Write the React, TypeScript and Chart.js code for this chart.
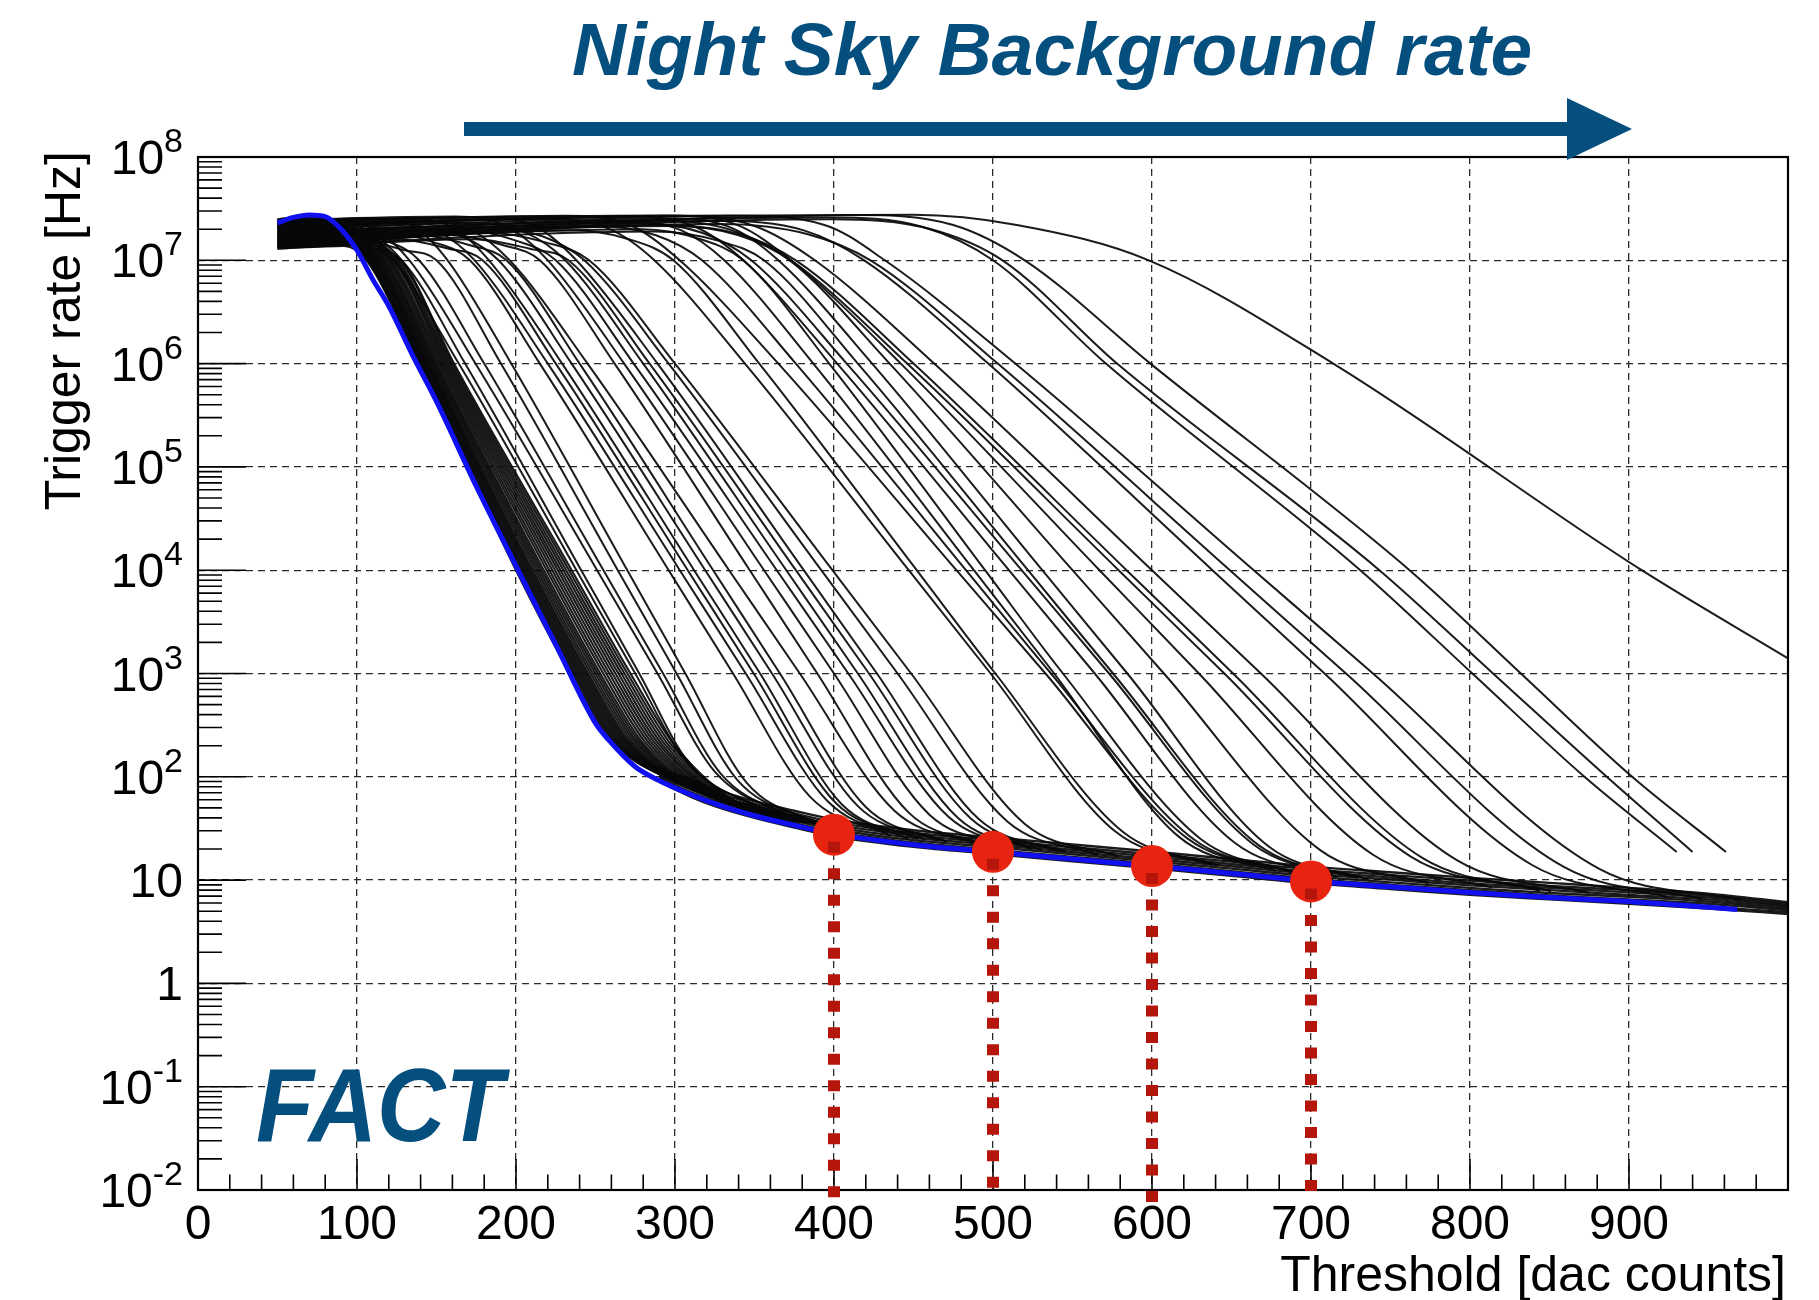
import React, { useEffect, useRef } from 'react';
import { Chart, registerables } from 'chart.js';

Chart.register(...registerables);

const FONT = '"Liberation Sans", Arial, Helvetica, sans-serif';
const NAVY = '#054f7f';
const RED = '#e8230f';
const RED_DARK = '#b5160b';
const BLUE = '#1010f0';
const BLACK = 'rgba(8,8,8,0.92)';

// ---------- axes ----------
const X_MIN = 0;
const X_MAX = 1000;
const Y_MIN = 0.01;
const Y_MAX = 1e8;
const X_TICK_VALUES = [0, 100, 200, 300, 400, 500, 600, 700, 800, 900];
const X_TICK_LABELS = ['0', '100', '200', '300', '400', '500', '600', '700', '800', '900'];
const X_GRID_VALUES = [100, 200, 300, 400, 500, 600, 700, 800, 900];
const Y_TICK_EXPONENTS = [-2, -1, 0, 1, 2, 3, 4, 5, 6, 7, 8];
const Y_GRID_VALUES = [0.1, 1, 10, 100, 1e3, 1e4, 1e5, 1e6, 1e7];

// ---------- shared rate levels of the curve knots ----------
const CURVE_START_X = 50;
const LEVEL_1E7 = 1e7;
const LEVEL_1E6 = 1e6;
const LEVEL_1E4 = 1e4;
const LEVEL_1E3 = 1e3;

// ---------- lowest NSB curve (blue) ----------
const BLUE_X = [50, 60, 70, 80, 90, 100, 110, 120, 135, 150, 175, 200, 225, 250, 258, 275, 290, 300, 325, 350, 375, 400, 450, 500, 550, 600, 650, 700, 750, 800, 850, 900, 968];
const BLUE_RATE = [2.3e7, 2.6e7, 2.75e7, 2.65e7, 2.0e7, 1.25e7, 6.5e6, 3.6e6, 1.2e6, 4.3e5, 6.5e4, 1.1e4, 1.9e3, 330, 230, 125, 92, 78, 55, 42, 34, 28, 22, 18.8, 16, 13.7, 11.6, 9.8, 8.6, 7.6, 6.8, 6.2, 5.2];

// ---------- dense bundle next to the blue curve ----------
const BUNDLE_START = [1.3e7, 2.5e7, 1.7e7, 2.1e7, 1.45e7, 2.35e7, 1.85e7, 1.35e7, 2.2e7, 1.6e7, 2.45e7, 1.5e7, 1.95e7, 2.3e7, 1.4e7, 1.75e7, 2.05e7, 1.55e7, 2.4e7, 1.65e7, 1.32e7, 2.15e7, 1.8e7, 2.0e7, 1.42e7, 2.25e7];
const BUNDLE_PEAK_X = [92, 72, 85, 78, 94, 70, 82, 95, 74, 88, 68, 93, 80, 73, 95, 86, 77, 91, 70, 89, 96, 76, 84, 80, 94, 75];
const BUNDLE_PEAK_RATE = [1.38e7, 2.7e7, 1.9e7, 2.35e7, 1.55e7, 2.6e7, 2.05e7, 1.42e7, 2.45e7, 1.75e7, 2.7e7, 1.6e7, 2.2e7, 2.55e7, 1.48e7, 1.95e7, 2.3e7, 1.65e7, 2.65e7, 1.8e7, 1.4e7, 2.4e7, 2.0e7, 2.25e7, 1.5e7, 2.5e7];
const BUNDLE_X7 = [106, 106.7, 107.3, 108, 108.6, 109.3, 110, 110.6, 111.3, 112, 112.6, 113.5, 114.4, 115.2, 116.1, 117, 118.1, 119.2, 120.3, 121.4, 122.5, 123.6, 124.7, 125.8, 126.9, 128];
const BUNDLE_X6 = [139, 139.7, 140.3, 141, 141.6, 142.3, 143, 143.6, 144.3, 145, 145.6, 146.5, 147.4, 148.2, 149.1, 150, 151.1, 152.2, 153.3, 154.4, 155.5, 156.6, 157.7, 158.8, 159.9, 161];
const BUNDLE_X4 = [200, 201, 202.1, 203.2, 204.2, 205.3, 206.3, 207.4, 208.4, 209.5, 210.5, 211.9, 213.3, 214.7, 216.1, 217.5, 219.3, 221, 222.8, 224.5, 226.3, 228, 229.8, 231.5, 233.3, 235];
const BUNDLE_X3 = [234, 235.1, 236.3, 237.4, 238.6, 239.7, 240.8, 242, 243.1, 244.3, 245.4, 246.9, 248.4, 250, 251.5, 253, 254.9, 256.8, 258.7, 260.6, 262.5, 264.4, 266.3, 268.2, 270.1, 272];
const BUNDLE_KNEE_X = [258, 259.3, 260.5, 261.8, 263, 264.3, 265.6, 266.8, 268.1, 269.3, 270.6, 272.3, 274, 275.6, 277.3, 279, 281.1, 283.2, 285.3, 287.4, 289.5, 291.6, 293.7, 295.8, 297.9, 300];
const BUNDLE_KNEE_RATE = [240, 239, 238, 236, 235, 234, 233, 232, 230, 229, 228, 226, 225, 223, 222, 220, 218, 216, 214, 212, 210, 208, 206, 204, 202, 200];
const BUNDLE_END_X = [300, 301.4, 302.7, 304, 305.4, 306.8, 308, 309.5, 310.8, 312, 313.5, 315.3, 317.1, 318.9, 320.7, 322.5, 324.8, 327, 329.3, 331.5, 333.8, 336, 338.3, 340.5, 342.8, 345];
const BUNDLE_END_RATE = [90, 88, 86, 85, 83, 81, 80, 78, 77, 76, 74, 72, 70, 68, 66, 65, 63, 62, 60, 58, 57, 55, 53, 52, 51, 50];
const BUNDLE_TAIL_X = [360, 361, 363, 364, 365, 367, 368, 370, 371, 372, 374, 375, 377, 379, 381, 383, 385, 387, 389, 392, 394, 396, 398, 401, 403, 405];
const BUNDLE_TAIL_RATE = [47, 46.5, 46, 45.5, 45, 44.5, 44, 43.5, 43, 42.5, 42, 41.5, 41, 40, 39.5, 39, 38.5, 38, 37, 36, 35.5, 35, 34.5, 34, 33.5, 33];

// ---------- spread-out curves (higher NSB) ----------
const SPREAD_START = [1.9e7, 1.5e7, 2.2e7, 1.7e7, 1.4e7, 2.4e7, 1.6e7, 2.0e7, 1.35e7, 2.3e7, 1.8e7, 1.5e7, 2.1e7, 1.45e7, 2.45e7, 1.65e7, 1.95e7, 1.3e7, 2.25e7, 1.75e7, 1.55e7, 2.05e7, 1.4e7, 2.35e7, 1.6e7, 1.85e7, 1.45e7, 2.15e7, 1.7e7, 1.35e7, 2.0e7, 1.55e7, 2.4e7, 1.8e7, 1.5e7, 2.1e7, 1.65e7, 1.4e7, 2.2e7, 1.9e7, 1.6e7, 2.3e7, 1.75e7];
const SPREAD_PEAK_RATE = [2.1e7, 1.65e7, 2.4e7, 1.9e7, 1.55e7, 2.55e7, 1.85e7, 2.3e7, 1.6e7, 2.55e7, 2.1e7, 1.75e7, 2.4e7, 1.75e7, 2.65e7, 1.95e7, 2.3e7, 1.6e7, 2.6e7, 2.1e7, 1.85e7, 2.5e7, 1.95e7, 2.7e7, 2.15e7, 2.4e7, 2.0e7, 2.65e7, 2.3e7, 1.9e7, 2.55e7, 2.15e7, 2.72e7, 2.45e7, 2.2e7, 2.7e7, 2.4e7, 2.25e7, 2.72e7, 2.6e7, 2.5e7, 2.74e7, 2.76e7];
const SPREAD_PEAK_X = [75, 80, 84, 90, 102, 110, 118, 120, 125, 129, 134, 139, 138, 160, 162, 166, 172, 174, 179, 181, 181, 220, 234, 231, 248, 266, 279, 272, 276, 287, 296, 297, 292, 286, 289, 299, 328, 328, 334, 396, 399, 414, 450];
const SPREAD_ROLL_X = [103, 108, 112, 118, 130, 137, 148, 152, 157, 161, 166, 171, 172, 192, 195, 200, 206, 208, 213, 217, 218, 259, 271, 273, 288, 304, 316, 313, 317, 327, 336, 340, 339, 336, 340, 350, 381, 383, 394, 456, 461, 475, 515];
const SPREAD_ROLL_RATE = [1.7e7, 1.35e7, 1.95e7, 1.55e7, 1.25e7, 2.05e7, 1.5e7, 1.85e7, 1.3e7, 2.05e7, 1.7e7, 1.4e7, 1.95e7, 1.4e7, 2.1e7, 1.55e7, 1.85e7, 1.3e7, 2.1e7, 1.7e7, 1.5e7, 2.0e7, 1.6e7, 2.15e7, 1.75e7, 1.95e7, 1.6e7, 2.1e7, 1.85e7, 1.55e7, 2.05e7, 1.75e7, 2.2e7, 1.95e7, 1.8e7, 2.15e7, 1.95e7, 1.8e7, 2.2e7, 2.1e7, 2.0e7, 2.2e7, 2.2e7];
const SPREAD_X7 = [123, 128, 133, 139, 150, 157, 171, 174, 179, 183, 189, 194, 196, 215, 220, 225, 231, 233, 238, 243, 246, 287, 299, 303, 317, 331, 343, 343, 348, 356, 365, 372, 373, 373, 376, 388, 419, 423, 432, 500, 506, 520, 598];
const SPREAD_X6 = [164, 168, 174.5, 180, 190.5, 197, 215, 220, 225, 229, 235, 240, 245, 262, 268, 274, 280, 284, 289, 296, 300, 344, 353, 365, 376, 387, 397, 402, 408, 415, 424, 435, 442, 446, 450, 463, 497, 503, 514, 571, 578, 599, 714];
const SPREAD_X4 = [238, 241, 251, 255, 264, 270, 296, 303, 308, 312, 319, 324, 334, 347, 356, 364, 370, 376, 381, 392, 399, 447, 452, 477, 483, 488, 495, 510, 518, 522, 531, 550, 567, 579, 584, 600, 638, 649, 664, 731, 743, 762, 908];
const SPREAD_X3 = [275, 277.5, 289, 292.5, 301, 306.5, 336.5, 344.5, 349.5, 353.5, 361, 366, 378.5, 389.5, 400, 409, 415, 422, 427, 440, 448.5, 498.5, 501.5, 533, 536.5, 538.5, 544, 564, 573, 575.5, 584.5, 607.5, 629.5, 645.5, 651, 668.5, 708.5, 722, 739, 801.5, 814.5, 832, null];
const SPREAD_KNEE_X = [307, 309, 325, 329, 339, 345, 385, 396, 401, 405, 415, 420, 438, 447, 460, 472, 478, 486, 491, 509, 520, 577, 582, 622, 626, 617, 631, 652, 664, 667, 673, 706, 739, 763, 770, 792, 839, 859, 881, 872, 886, 902, null];
const SPREAD_KNEE_RATE = [140, 135, 112, 106, 94, 88, 64, 58, 56, 54, 52, 51, 47, 45, 43, 41, 40, 39.5, 39, 37, 35, 29.5, 29, 25.5, 25, 26.2, 24.7, 23, 22, 21.8, 21.4, 19.4, 17.6, 16.8, 16.4, 15.5, 14, 13.4, 12.9, 100, 100, 100, null];
const SPREAD_END_X = [357, 360, 376, 378, 388, 394, 436, 447, 453, 457, 466, 471, 491, 498, 513, 525, 531, 541, 546, 566, 579, 638, 642, 689, 690, 678, 690, 716, 729, 730, 736, 774, 814, 844, 851, 875, 924, 946, 971, 930, 940, 961, 1000];
const SPREAD_END_RATE = [46, 45, 39, 38, 36, 33, 27, 25, 25, 25, 24, 23.5, 22, 21.5, 21, 20, 19.5, 19, 18.8, 17.5, 17, 14, 13.9, 11.8, 11.8, 12.2, 11.8, 10.8, 10.5, 10.5, 10.2, 9.3, 8.5, 7.9, 7.8, 7.5, 6.9, 6.6, 6.4, 18.7, 18.7, 18.7, 1400];

// ---------- common floor band ----------
const FLOOR_X = [290, 310, 325, 350, 375, 400, 450, 500, 550, 600, 650, 700, 750, 800, 850, 900, 950, 1000];
const FLOOR_1 = [90, 64, 52, 40, 32.3, 26.6, 21, 17.9, 15.2, 13.0, 11.0, 9.3, 8.2, 7.2, 6.5, 5.9, 5.3, 4.7];
const FLOOR_2 = [94, 67, 54.5, 41.6, 33.7, 27.7, 21.8, 18.6, 15.8, 13.6, 11.5, 9.7, 8.5, 7.5, 6.7, 6.1, 5.5, 4.9];
const FLOOR_3 = [98, 71, 58, 44, 35.7, 29.4, 23.1, 19.7, 16.8, 14.4, 12.2, 10.3, 9.0, 8.0, 7.1, 6.5, 5.9, 5.1];
const FLOOR_4 = [102, 75.5, 61, 46.6, 37.7, 31.1, 24.4, 20.9, 17.8, 15.2, 12.9, 10.9, 9.5, 8.4, 7.5, 6.9, 6.2, 5.3];
const FLOOR_5 = [106, 79.5, 64.4, 49.1, 39.8, 32.8, 25.7, 22, 18.7, 16, 13.6, 11.5, 10.1, 8.9, 8.0, 7.2, 6.5, 5.5];
const FLOOR_6 = [110, 83.6, 67.7, 51.7, 41.8, 34.4, 27.1, 23.1, 19.7, 16.9, 14.3, 12.1, 10.6, 9.3, 8.4, 7.6, 6.8, 5.7];
const FLOOR_7 = [115, 88.4, 71.5, 54.6, 44.2, 36.4, 28.6, 24.4, 20.8, 17.8, 15.1, 12.7, 11.2, 9.9, 8.8, 8.0, 7.1, 5.9];
const FLOOR_8 = [120, 93.8, 75.9, 58, 46.9, 38.6, 30.4, 25.9, 22.1, 18.9, 16, 13.5, 11.9, 10.5, 9.4, 8.4, 7.4, 6.1];

// ---------- chosen thresholds (red markers) ----------
const MARK_X = [400, 500, 600, 700];
const MARK_RATE = [27.5, 18.8, 13.7, 9.7];
const MARK_LINE_END = [0.0079, 0.0079, 0.0069, 0.0069];

type Pt = { x: number; y: number };
function toPoints(xs: (number | null | undefined)[], ys: (number | null | undefined)[]): Pt[] {
  const out: Pt[] = [];
  for (let i = 0; i < xs.length; i++) {
    const x = xs[i];
    const y = ys[i];
    if (x == null || y == null) continue;
    out.push({ x, y });
  }
  return out;
}

function buildDatasets(): any[] {
  const ds: any[] = [];
  const curveBase = {
    showLine: true,
    pointRadius: 0,
    fill: false,
    cubicInterpolationMode: 'monotone',
  };
  MARK_X.forEach((x, i) => {
    ds.push({
      data: [{ x, y: MARK_RATE[i] }, { x, y: MARK_LINE_END[i] }],
      showLine: true,
      pointRadius: 0,
      borderColor: RED_DARK,
      borderWidth: 12,
      borderDash: [11, 15.5],
      borderDashOffset: 19.5,
      borderCapStyle: 'butt',
      tension: 0,
      clip: false,
      order: 0,
    });
  });
  ds.push({
    data: toPoints(MARK_X, MARK_RATE),
    showLine: false,
    pointRadius: 21,
    pointHoverRadius: 21,
    pointBackgroundColor: RED,
    pointBorderColor: RED,
    pointBorderWidth: 0,
    clip: false,
    order: 1,
  });
  ds.push({ ...curveBase, data: toPoints(BLUE_X, BLUE_RATE), borderColor: BLUE, borderWidth: 5, order: 2 });
  [FLOOR_1, FLOOR_2, FLOOR_3, FLOOR_4, FLOOR_5, FLOOR_6, FLOOR_7, FLOOR_8].forEach((f) => {
    ds.push({ ...curveBase, data: toPoints(FLOOR_X, f), borderColor: BLACK, borderWidth: 2.4, order: 3 });
  });
  BUNDLE_START.forEach((s, i) => {
    ds.push({
      ...curveBase,
      data: toPoints(
        [CURVE_START_X, BUNDLE_PEAK_X[i], BUNDLE_X7[i], BUNDLE_X6[i], BUNDLE_X4[i], BUNDLE_X3[i], BUNDLE_KNEE_X[i], BUNDLE_END_X[i], BUNDLE_TAIL_X[i]],
        [s, BUNDLE_PEAK_RATE[i], LEVEL_1E7, LEVEL_1E6, LEVEL_1E4, LEVEL_1E3, BUNDLE_KNEE_RATE[i], BUNDLE_END_RATE[i], BUNDLE_TAIL_RATE[i]]
      ),
      borderColor: BLACK,
      borderWidth: 2.2,
      order: 3,
    });
  });
  SPREAD_START.forEach((s, i) => {
    ds.push({
      ...curveBase,
      data: toPoints(
        [CURVE_START_X, SPREAD_PEAK_X[i], SPREAD_ROLL_X[i], SPREAD_X7[i], SPREAD_X6[i], SPREAD_X4[i], SPREAD_X3[i], SPREAD_KNEE_X[i], SPREAD_END_X[i]],
        [s, SPREAD_PEAK_RATE[i], SPREAD_ROLL_RATE[i], LEVEL_1E7, LEVEL_1E6, LEVEL_1E4, LEVEL_1E3, SPREAD_KNEE_RATE[i], SPREAD_END_RATE[i]]
      ),
      borderColor: BLACK,
      borderWidth: 2.0,
      order: 3,
    });
  });
  return ds;
}

function drawFitted(ctx: CanvasRenderingContext2D, text: string, font: string, left: number, right: number, baseline: number, color: string) {
  ctx.save();
  ctx.font = font;
  ctx.fillStyle = color;
  ctx.textAlign = 'left';
  ctx.textBaseline = 'alphabetic';
  const m = ctx.measureText(text);
  const bbLeft = m.actualBoundingBoxLeft;
  const bbW = m.actualBoundingBoxLeft + m.actualBoundingBoxRight;
  const sx = (right - left) / bbW;
  ctx.translate(left + bbLeft * sx, baseline);
  ctx.scale(sx, 1);
  ctx.fillText(text, 0, 0);
  ctx.restore();
}

const decorPlugin = {
  id: 'rootDecor',
  beforeDraw(chart: any) {
    const ctx = chart.ctx as CanvasRenderingContext2D;
    ctx.save();
    ctx.fillStyle = '#ffffff';
    ctx.fillRect(0, 0, chart.width, chart.height);
    ctx.restore();
  },
  beforeDatasetsDraw(chart: any) {
    const ctx = chart.ctx as CanvasRenderingContext2D;
    const a = chart.chartArea;
    const xs = chart.scales.x;
    const ys = chart.scales.y;
    ctx.save();
    ctx.strokeStyle = '#000';
    ctx.lineWidth = 1.6;
    ctx.beginPath();
    for (let v = X_MIN; v <= X_MAX; v += 20) {
      const px = xs.getPixelForValue(v);
      const len = v % 100 === 0 ? 31 : 15.5;
      ctx.moveTo(px, a.bottom);
      ctx.lineTo(px, a.bottom - len);
    }
    for (let e = -2; e <= 7; e++) {
      for (let m = 1; m <= 9; m++) {
        const py = ys.getPixelForValue(m * Math.pow(10, e));
        const len = m === 1 ? 48 : 24;
        ctx.moveTo(a.left, py);
        ctx.lineTo(a.left + len, py);
      }
    }
    const pTop = ys.getPixelForValue(Y_MAX);
    ctx.moveTo(a.left, pTop);
    ctx.lineTo(a.left + 48, pTop);
    ctx.stroke();
    ctx.lineWidth = 2.2;
    ctx.strokeRect(a.left, a.top, a.right - a.left, a.bottom - a.top);
    ctx.restore();
  },
  afterDraw(chart: any) {
    const ctx = chart.ctx as CanvasRenderingContext2D;
    const xs = chart.scales.x;
    const ys = chart.scales.y;
    ctx.save();
    ctx.fillStyle = '#000';
    ctx.font = `48px ${FONT}`;
    ctx.textAlign = 'center';
    ctx.textBaseline = 'alphabetic';
    X_TICK_VALUES.forEach((v, i) => {
      ctx.fillText(X_TICK_LABELS[i], xs.getPixelForValue(v), 1239);
    });
    const right = 183;
    Y_TICK_EXPONENTS.forEach((e) => {
      const py = ys.getPixelForValue(Math.pow(10, e));
      let base = '10';
      let sup = String(e);
      if (e === 0) { base = '1'; sup = ''; }
      if (e === 1) { sup = ''; }
      ctx.font = `34px ${FONT}`;
      const ws = sup ? ctx.measureText(sup).width : 0;
      ctx.font = `48px ${FONT}`;
      const wb = ctx.measureText(base).width;
      ctx.textAlign = 'left';
      ctx.fillText(base, right - ws - wb, py + 17);
      if (sup) {
        ctx.font = `34px ${FONT}`;
        ctx.fillText(sup, right - ws, py - 5);
      }
    });
    ctx.font = `50px ${FONT}`;
    ctx.textAlign = 'right';
    ctx.fillText('Threshold [dac counts]', 1786, 1291);
    ctx.save();
    ctx.translate(80, 151);
    ctx.rotate(-Math.PI / 2);
    ctx.textAlign = 'right';
    ctx.fillText('Trigger rate [Hz]', 0, 0);
    ctx.restore();
    ctx.fillStyle = NAVY;
    ctx.fillRect(464, 122, 1569 - 464, 14);
    ctx.beginPath();
    ctx.moveTo(1567, 98);
    ctx.lineTo(1632, 129);
    ctx.lineTo(1567, 160);
    ctx.closePath();
    ctx.fill();
    ctx.restore();
    drawFitted(ctx, 'Night Sky Background rate', `italic bold 74px ${FONT}`, 573, 1531, 75, NAVY);
    drawFitted(ctx, 'FACT', `italic bold 104px ${FONT}`, 257, 510, 1141, NAVY);
  },
};

export default function App() {
  const ref = useRef<HTMLCanvasElement | null>(null);
  useEffect(() => {
    const canvas = ref.current;
    if (!canvas) return;
    const chart = new Chart(canvas, {
      type: 'line',
      data: { datasets: buildDatasets() },
      options: {
        animation: false,
        responsive: false,
        devicePixelRatio: 1,
        events: [],
        layout: { padding: { left: 0, right: 31, top: 157, bottom: 0 } },
        plugins: {
          legend: { display: false },
          tooltip: { enabled: false },
          title: { display: false },
        },
        scales: {
          x: {
            type: 'linear',
            min: X_MIN,
            max: X_MAX,
            position: 'bottom',
            ticks: { display: false },
            grid: { color: '#2a2a2a', lineWidth: 1.3, drawTicks: false },
            border: { display: false, dash: [7, 5] },
            afterBuildTicks: (s: any) => { s.ticks = X_GRID_VALUES.map((v) => ({ value: v })); },
            afterFit: (s: any) => { s.height = 110; },
          },
          y: {
            type: 'logarithmic',
            min: Y_MIN,
            max: Y_MAX,
            position: 'left',
            ticks: { display: false },
            grid: { color: '#2a2a2a', lineWidth: 1.3, drawTicks: false },
            border: { display: false, dash: [7, 5] },
            afterBuildTicks: (s: any) => { s.ticks = Y_GRID_VALUES.map((v) => ({ value: v })); },
            afterFit: (s: any) => { s.width = 198; },
          },
        },
      } as any,
      plugins: [decorPlugin as any],
    });
    return () => chart.destroy();
  }, []);
  return (
    <div style={{ position: 'absolute', left: 0, top: 0, width: 1819, height: 1300, background: '#fff' }}>
      <canvas ref={ref} width={1819} height={1300} style={{ display: 'block', width: 1819, height: 1300 }} />
    </div>
  );
}
